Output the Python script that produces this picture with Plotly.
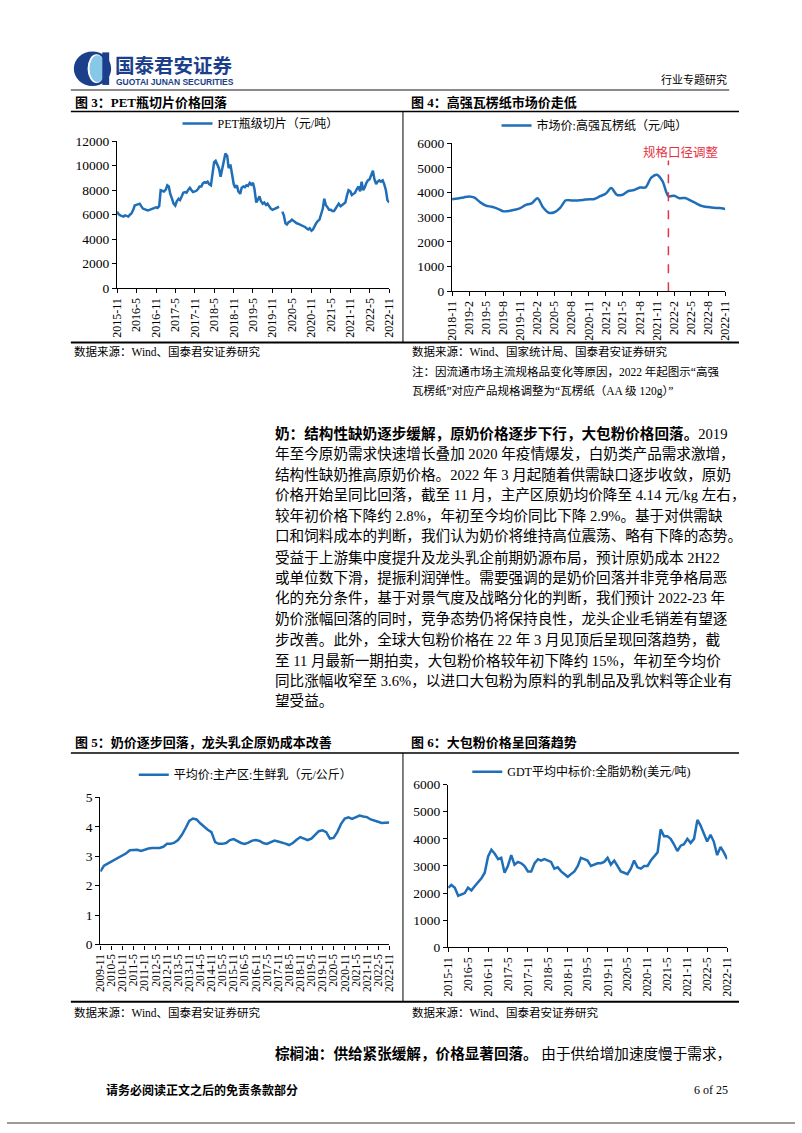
import pandas as pd
import plotly.graph_objects as go

W, H = 802, 1133
BLUE = "#1F6FB8"
RED = "#E53344"
NAVY = "#1B3F8B"
SERIF = "Liberation Serif, Noto Sans CJK SC"
CJK = "Noto Sans CJK SC"

# ---------------- data ----------------
# Fig 3: PET bottle chip price (yuan/ton), semi-monthly from 2015-11
pet_start = "2015-11-01"
pet_values = [
    6250, 6050, 5950, 5900,
    5850, 5950, 5900, 5850, 6000, 6100, 6400, 6750, 6800, 6850, 6900, 6700,
    6500, 6450, 6400, 6350, 6400, 6450, 6500, 6550, 6600, 6550, 6700, 8000,
    7950, 7900, 8050, 8400, 8300, 7700, 7300, 6900, 6750, 7100, 7300, 7200,
    7500, 7800, 7850, 7800, 8050, 8200, 8000, 7850, 7900, 7950, 8100, 8300,
    8300, 8550, 8650, 8600, 8700, 8500, 8400, 9300, 10300, 10400, 10100, 9800,
    9100, 9700, 10600, 11000, 10800, 9800, 10100, 9300, 8500, 8200, 8400, 7900,
    7700, 8200, 8300, 8250, 8400, 8350, 8600, 8450, 8600, 8100, 7000, 7200,
    7500, 7100, 6900, 7000, 6800, 6900, 6700, 6500, 6400, 6450, 6550, 6600,
    6650, None, 6250, 5950, 5300, 5200, 5400, 5450, 5600, 5500, 5400, 5300,
    5250, 5200, 5150, 5100, 5000, 4900, 4800, 4900, 4700, 4800, 5100, 5300,
    5500, 5600, 6100, 6500, 7300, 6800, 6600, 6400, 6400, 6300, 6300, 6500,
    6800, 6900, 6700, 6800, 6900, 7000, 7600, 8000, 7900, 7600, 7700, 7800,
    8100, 8300, 7900, 8700, 8000, 8200, 8600, 8800, 8900, 9300, 9600, 8900,
    8500, 8700, 8800, 8700, 8800, 8500, 8000, 7200, 7000,
]
pet_ticks = ["2015-11", "2016-5", "2016-11", "2017-5", "2017-11", "2018-5", "2018-11",
             "2019-5", "2019-11", "2020-5", "2020-11", "2021-5", "2021-11", "2022-5", "2022-11"]

# Fig 4: corrugated paper market price (yuan/ton), monthly from 2018-11
paper_start = "2018-11-01"
paper_values = [3730, 3760, 3800, 3840, 3790, 3600, 3470, 3420, 3350, 3240, 3250, 3300,
                3370, 3500, 3560, 3770, 3400, 3180, 3200, 3380, 3680, 3680, 3680, 3700,
                3730, 3740, 3850, 3960, 4180, 3900, 3910, 4060, 4100, 4200, 4210, 4600,
                4720, 4450, 3850, 3870, 3770, 3780, 3670, 3550, 3450, 3410, 3380, 3370, 3330]
paper_ticks = ["2018-11", "2019-2", "2019-5", "2019-8", "2019-11", "2020-2", "2020-5", "2020-8",
               "2020-11", "2021-2", "2021-5", "2021-8", "2021-11", "2022-2", "2022-5", "2022-8", "2022-11"]
adjust_date = "2022-01-01"
adjust_label = "规格口径调整"

# Fig 5: raw milk average price (yuan/kg), bi-monthly from 2009-11
milk_start = "2009-11-01"
milk_values = [2.48,
               2.68, 2.75, 2.82, 2.90, 2.98, 3.05,
               3.10, 3.20, 3.22, 3.22, 3.18, 3.23,
               3.26, 3.28, 3.28, 3.28, 3.32, 3.42,
               3.42, 3.46, 3.55, 3.72, 3.95, 4.20,
               4.28, 4.25, 4.12, 4.00, 3.90, 3.82,
               3.48, 3.42, 3.42, 3.45, 3.55, 3.58,
               3.50, 3.45, 3.42, 3.46, 3.53, 3.55,
               3.52, 3.45, 3.42, 3.47, 3.53, 3.50,
               3.47, 3.43, 3.38, 3.45, 3.56, 3.65,
               3.60, 3.55, 3.60, 3.72, 3.85, 3.88,
               3.82, 3.60, 3.62, 3.82, 4.10, 4.28,
               4.32, 4.27, 4.32, 4.38, 4.35, 4.33,
               4.25, 4.20, 4.17, 4.13, 4.15, 4.15]
milk_ticks = ["2009-11", "2010-5", "2010-11", "2011-5", "2011-11", "2012-5", "2012-11", "2013-5",
              "2013-11", "2014-5", "2014-11", "2015-5", "2015-11", "2016-5", "2016-11", "2017-5",
              "2017-11", "2018-5", "2018-11", "2019-5", "2019-11", "2020-5", "2020-11", "2021-5",
              "2021-11", "2022-5", "2022-11"]

# Fig 6: GDT whole milk powder (USD/ton), monthly from 2015-11
gdt_start = "2015-11-01"
gdt_values = [2200, 2300,
              2200, 1900, 1950, 2000, 2200, 2100, 2250, 2400, 2550, 2750, 3350, 3600,
              3450, 3250, 3300, 2750, 3000, 3400, 3050, 3150, 3100, 3000, 2800, 2800,
              3100, 3250, 3200, 3250, 3200, 3150, 2900, 2950, 2800, 2700, 2600, 2700,
              2800, 3000, 3300, 3250, 3200, 3000, 3050, 3100, 3100, 3150, 3300, 3050,
              3200, 3000, 2800, 2750, 2700, 2900, 3200, 2950, 2900, 3000, 3000, 3200,
              3350, 3500, 4350, 4100, 4100, 4000, 3800, 3550, 3750, 3800, 4000, 3850,
              4000, 4700, 4500, 4200, 3900, 4150, 3900, 3400, 3700, 3500, 3250]
gdt_ticks = pet_ticks

pet_dates = pd.date_range(pet_start, periods=len(pet_values), freq="SMS")
paper_dates = pd.date_range(paper_start, periods=len(paper_values), freq="MS")
milk_dates = pd.date_range(milk_start, periods=len(milk_values), freq="2MS")
gdt_dates = pd.date_range(gdt_start, periods=len(gdt_values), freq="MS")


def tickdates(labels):
    return [pd.to_datetime(l, format="%Y-%m").strftime("%Y-%m-%d") for l in labels]


def px(x):
    return x / W


def py(y):
    return 1 - y / H


fig = go.Figure()
fig.add_trace(go.Scatter(x=pet_dates, y=pet_values, mode="lines", name="PET瓶级切片（元/吨）",
                         line=dict(color=BLUE, width=2.5), xaxis="x", yaxis="y", legend="legend",
                         connectgaps=False))
fig.add_trace(go.Scatter(x=paper_dates, y=paper_values, mode="lines", name="市场价:高强瓦楞纸（元/吨）",
                         line=dict(color=BLUE, width=2.5, shape="spline", smoothing=0.8),
                         xaxis="x2", yaxis="y2", legend="legend2"))
fig.add_trace(go.Scatter(x=milk_dates, y=milk_values, mode="lines", name="平均价:主产区:生鲜乳（元/公斤）",
                         line=dict(color=BLUE, width=2.5), xaxis="x3", yaxis="y3", legend="legend3"))
fig.add_trace(go.Scatter(x=gdt_dates, y=gdt_values, mode="lines", name="GDT平均中标价:全脂奶粉(美元/吨)",
                         line=dict(color=BLUE, width=2.5), xaxis="x4", yaxis="y4", legend="legend4"))


def xaxis(dom, ticks, size=12):
    tv = tickdates(ticks)
    return dict(domain=[px(dom[0]), px(dom[1])], type="date", range=[tv[0], tv[-1]],
                tickvals=tv, ticktext=ticks, tickangle=-90, ticks="outside", ticklen=4,
                tickcolor="black", showline=True, linecolor="black", linewidth=1.2,
                showgrid=False, zeroline=False, fixedrange=True,
                tickfont=dict(family="Liberation Serif", size=size, color="black"))


def yaxis(dom, rng, dtick, anchor):
    return dict(domain=[py(dom[1]), py(dom[0])], range=rng, dtick=dtick, anchor=anchor,
                tickformat="d", ticks="outside", ticklen=4, tickcolor="black", showline=True,
                linecolor="black", linewidth=1.2, showgrid=False, zeroline=False, fixedrange=True,
                tickfont=dict(family="Liberation Serif", size=13.5, color="black"))


legend_common = dict(orientation="h", xanchor="center", yanchor="middle", bgcolor="rgba(0,0,0,0)",
                     itemwidth=30, font=dict(family=SERIF, size=12, color="black"))

fig.update_layout(
    width=W, height=H, margin=dict(l=0, r=0, t=0, b=0),
    paper_bgcolor="white", plot_bgcolor="white", showlegend=True,
    xaxis=dict(xaxis((112, 389), pet_ticks), anchor="y"),
    yaxis=yaxis((136, 285), [0, 12000], 2000, "x"),
    xaxis2=dict(xaxis((453, 731), paper_ticks), anchor="y2"),
    yaxis2=yaxis((138, 288), [0, 6000], 1000, "x2"),
    xaxis3=dict(xaxis((95, 389), milk_ticks, size=11.5), anchor="y3"),
    yaxis3=yaxis((801, 950), [0, 5], 1, "x3"),
    xaxis4=dict(xaxis((449, 733), gdt_ticks), anchor="y4"),
    yaxis4=yaxis((788, 953), [0, 6000], 1000, "x4"),
    legend=dict(legend_common, x=px(258), y=py(118)),
    legend2=dict(legend_common, x=px(598), y=py(120)),
    legend3=dict(legend_common, x=px(243), y=py(778)),
    legend4=dict(legend_common, x=px(585), y=py(775)),
)

shapes = []
ann = []


def hline(x0, x1, y, width=1.5, color="black"):
    shapes.append(dict(type="line", xref="paper", yref="paper", x0=px(x0), x1=px(x1),
                       y0=py(y), y1=py(y), line=dict(color=color, width=width)))


def vline(x, y0, y1, width=1, color="black"):
    shapes.append(dict(type="line", xref="paper", yref="paper", x0=px(x), x1=px(x),
                       y0=py(y0), y1=py(y1), line=dict(color=color, width=width)))


def text(x, y, s, size=12, color="black", anchor="left", family=SERIF):
    ann.append(dict(x=px(x), y=py(y), xref="paper", yref="paper", text=s, showarrow=False,
                    xanchor=anchor, yanchor="middle", borderpad=0,
                    font=dict(size=size, color=color, family=family)))


# logo
shapes.append(dict(type="circle", xref="paper", yref="paper", x0=px(68), x1=px(106), y0=py(80), y1=py(45),
                   fillcolor=NAVY, line=dict(width=0)))
shapes.append(dict(type="circle", xref="paper", yref="paper", x0=px(82), x1=px(100), y0=py(77), y1=py(48),
                   fillcolor="white", line=dict(width=0)))
shapes.append(dict(type="circle", xref="paper", yref="paper", x0=px(84), x1=px(100), y0=py(76), y1=py(49),
                   fillcolor="#86C8E6", line=dict(width=0)))
shapes.append(dict(type="rect", xref="paper", yref="paper", x0=px(97), x1=px(104), y0=py(79), y1=py(46),
                   fillcolor=NAVY, line=dict(width=0)))
text(109, 58, "<b>国泰君安证券</b>", size=19.5, color=NAVY, family=CJK)
text(110, 76.5, "<b>GUOTAI JUNAN SECURITIES</b>", size=8.5, color=NAVY, family="Liberation Sans")
text(734, 73, "行业专题研究", size=11, anchor="right")
hline(65, 735, 84, width=2, color="#8A8A8A")

# top block
text(68, 97, "<b>图 3：PET瓶切片价格回落</b>", size=13)
text(410, 97, "<b>图 4：高强瓦楞纸市场价走低</b>", size=13)
hline(65, 745, 106, width=1.5)
vline(403, 106, 340)
hline(65, 745, 340, width=2)
text(67, 349, "数据来源：Wind、国泰君安证券研究", size=11.5)
text(411, 349, "数据来源：Wind、国家统计局、国泰君安证券研究", size=11.5)
text(411, 369, "注：因流通市场主流规格品变化等原因，2022 年起图示“高强", size=11.5)
text(411, 389, "瓦楞纸”对应产品规格调整为“瓦楞纸（AA 级 120g）”", size=11.5)

# red marker in fig 4
shapes.append(dict(type="line", xref="x2", yref="y2", x0=adjust_date, x1=adjust_date, y0=0, y1=5300,
                   line=dict(color=RED, width=1.5, dash="dash")))
ann.append(dict(x=adjust_date, y=5620, xref="x2", yref="y2", text=adjust_label, showarrow=False,
                xanchor="center", yanchor="middle", xshift=13, font=dict(size=12.5, color=RED, family=SERIF)))

# body paragraph
body = [
    "<b>奶：结构性缺奶逐步缓解，原奶价格逐步下行，大包粉价格回落。</b>2019",
    "年至今原奶需求快速增长叠加 2020 年疫情爆发，白奶类产品需求激增，",
    "结构性缺奶推高原奶价格。2022 年 3 月起随着供需缺口逐步收敛，原奶",
    "价格开始呈同比回落，截至 11 月，主产区原奶均价降至 4.14 元/kg 左右，",
    "较年初价格下降约 2.8%，年初至今均价同比下降 2.9%。基于对供需缺",
    "口和饲料成本的判断，我们认为奶价将维持高位震荡、略有下降的态势。",
    "受益于上游集中度提升及龙头乳企前期奶源布局，预计原奶成本 2H22",
    "或单位数下滑，提振利润弹性。需要强调的是奶价回落并非竞争格局恶",
    "化的充分条件，基于对景气度及战略分化的判断，我们预计 2022-23 年",
    "奶价涨幅回落的同时，竞争态势仍将保持良性，龙头企业毛销差有望逐",
    "步改善。此外，全球大包粉价格在 22 年 3 月见顶后呈现回落趋势，截",
    "至 11 月最新一期拍卖，大包粉价格较年初下降约 15%，年初至今均价",
    "同比涨幅收窄至 3.6%，以进口大包粉为原料的乳制品及乳饮料等企业有",
    "望受益。",
]
for i, line in enumerate(body):
    text(272, 432 + i * 20.9, line, size=14.6)

# bottom block
text(68, 745, "<b>图 5：奶价逐步回落，龙头乳企原奶成本改善</b>", size=13)
text(410, 745, "<b>图 6：大包粉价格呈回落趋势</b>", size=13)
hline(65, 745, 756, width=1.5)
vline(403, 756, 1008)
hline(65, 745, 1008, width=2)
text(67, 1019, "数据来源：Wind、国泰君安证券研究", size=11.5)
text(411, 1019, "数据来源：Wind、国泰君安证券研究", size=11.5)

text(272, 1061, "<b>棕榈油：供给紧张缓解，价格显著回落。</b> 由于供给增加速度慢于需求，", size=14.6)

# footer
text(100, 1098, "<b>请务必阅读正文之后的免责条款部分</b>", size=12)
text(735, 1098, "6 of 25", size=12, anchor="right")
hline(0, 802, 1131, width=2, color="#9A9A9A")

fig.update_layout(shapes=shapes, annotations=ann)
fig.write_html("out.html")
